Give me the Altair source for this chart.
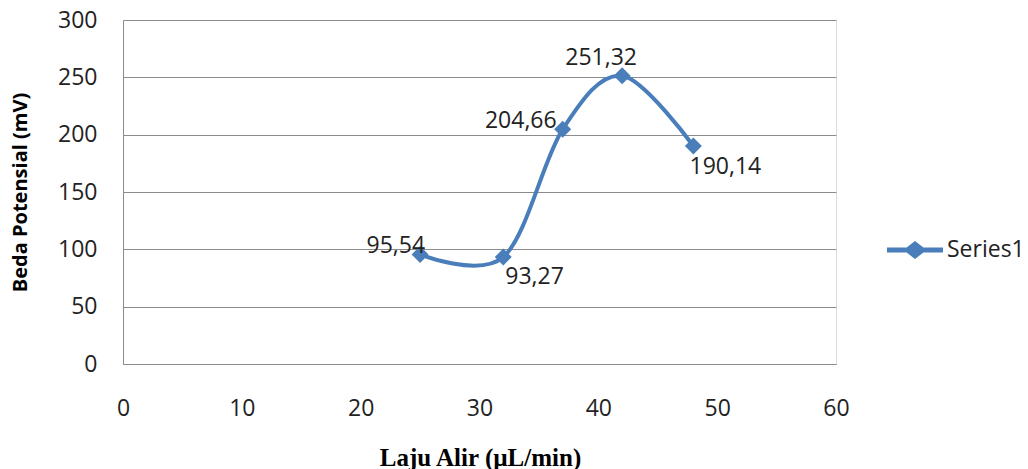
import altair as alt
import pandas as pd

# Flow rate (µL/min) and measured potential difference (mV)
flow_rate = [25, 32, 37, 42, 48]
potential = [95.54, 93.27, 204.66, 251.32, 190.14]
value_labels = ["95,54", "93,27", "204,66", "251,32", "190,14"]
series = ["Series1"] * len(flow_rate)

df = pd.DataFrame({
    "idx": list(range(len(flow_rate))),
    "flow": flow_rate,
    "mv": potential,
    "label": value_labels,
    "series": series,
})

BLUE = "#4A7EBB"
GRID = "#8c8c8c"
FONT = "Open Sans"
FS = 23

x_enc = alt.X(
    "flow:Q",
    scale=alt.Scale(domain=[0, 60], nice=False),
    axis=alt.Axis(
        values=[0, 10, 20, 30, 40, 50, 60],
        title="Laju Alir (µL/min)",
        titleFont="Liberation Serif",
        titleFontSize=25,
        titleFontWeight="bold",
        titleColor="#000",
        titleX=357,
        titleY=93,
        titleBaseline="middle",
        labelFont=FONT,
        labelFontSize=FS,
        labelColor="#222",
        labelPadding=33,
        labelFlush=False,
        ticks=False,
        grid=False,
        domainColor=GRID,
    ),
)
y_enc = alt.Y(
    "mv:Q",
    scale=alt.Scale(domain=[0, 300], nice=False),
    axis=alt.Axis(
        values=[0, 50, 100, 150, 200, 250, 300],
        title="Beda Potensial (mV)",
        titleFont=FONT,
        titleFontSize=20,
        titleFontWeight="bold",
        titleColor="#000",
        titleX=-103,
        titleY=172,
        titleBaseline="middle",
        titleAngle=270,
        labelFont=FONT,
        labelFontSize=FS,
        labelColor="#222",
        labelPadding=26,
        ticks=False,
        grid=True,
        gridColor=GRID,
        gridWidth=1,
        domainColor=GRID,
    ),
)

color_enc = alt.Color(
    "series:N",
    scale=alt.Scale(range=[BLUE]),
    legend=alt.Legend(
        title=None,
        orient="none",
        legendX=764,
        legendY=202,
        padding=0,
        symbolType="M-1,-0.09L-0.3,-0.09L0,-0.32L0.3,-0.09L1,-0.09L1,0.09L0.3,0.09L0,0.32L-0.3,0.09L-1,0.09Z",
        symbolSize=3136,
        symbolFillColor=BLUE,
        symbolStrokeWidth=0,
        labelFont=FONT,
        labelFontSize=FS,
        labelColor="#222",
        labelOffset=4,
    ),
)

base = alt.Chart(df)

line = base.mark_line(interpolate="cardinal", strokeWidth=4).encode(
    x=x_enc, y=y_enc, color=color_enc
)
points = base.mark_point(shape="diamond", size=289, filled=True, opacity=1).encode(
    x="flow:Q", y="mv:Q", color=alt.Color("series:N", legend=None)
)

# Per-point label placement: (align, dx, dy)
placements = [
    ("right", 5, -8),
    ("left", 2, 20),
    ("right", -6, -8),
    ("center", -21, -18),
    ("center", 32, 21),
]
texts = []
for i, (al, ddx, ddy) in enumerate(placements):
    texts.append(
        base.transform_filter(alt.datum.idx == i)
        .mark_text(align=al, baseline="middle", dx=ddx, dy=ddy,
                   font=FONT, fontSize=FS, color="#222")
        .encode(x="flow:Q", y="mv:Q", text="label:N")
    )

chart = alt.layer(line, points, *texts).properties(
    width=713,
    height=344,
    autosize=alt.AutoSizeParams(type="none"),
    padding={"left": 123, "top": 20, "right": 192, "bottom": 105},
).configure_view(stroke=None).configure(background="white")

chart.save("out.html", embed_options={"renderer": "svg", "actions": False})
